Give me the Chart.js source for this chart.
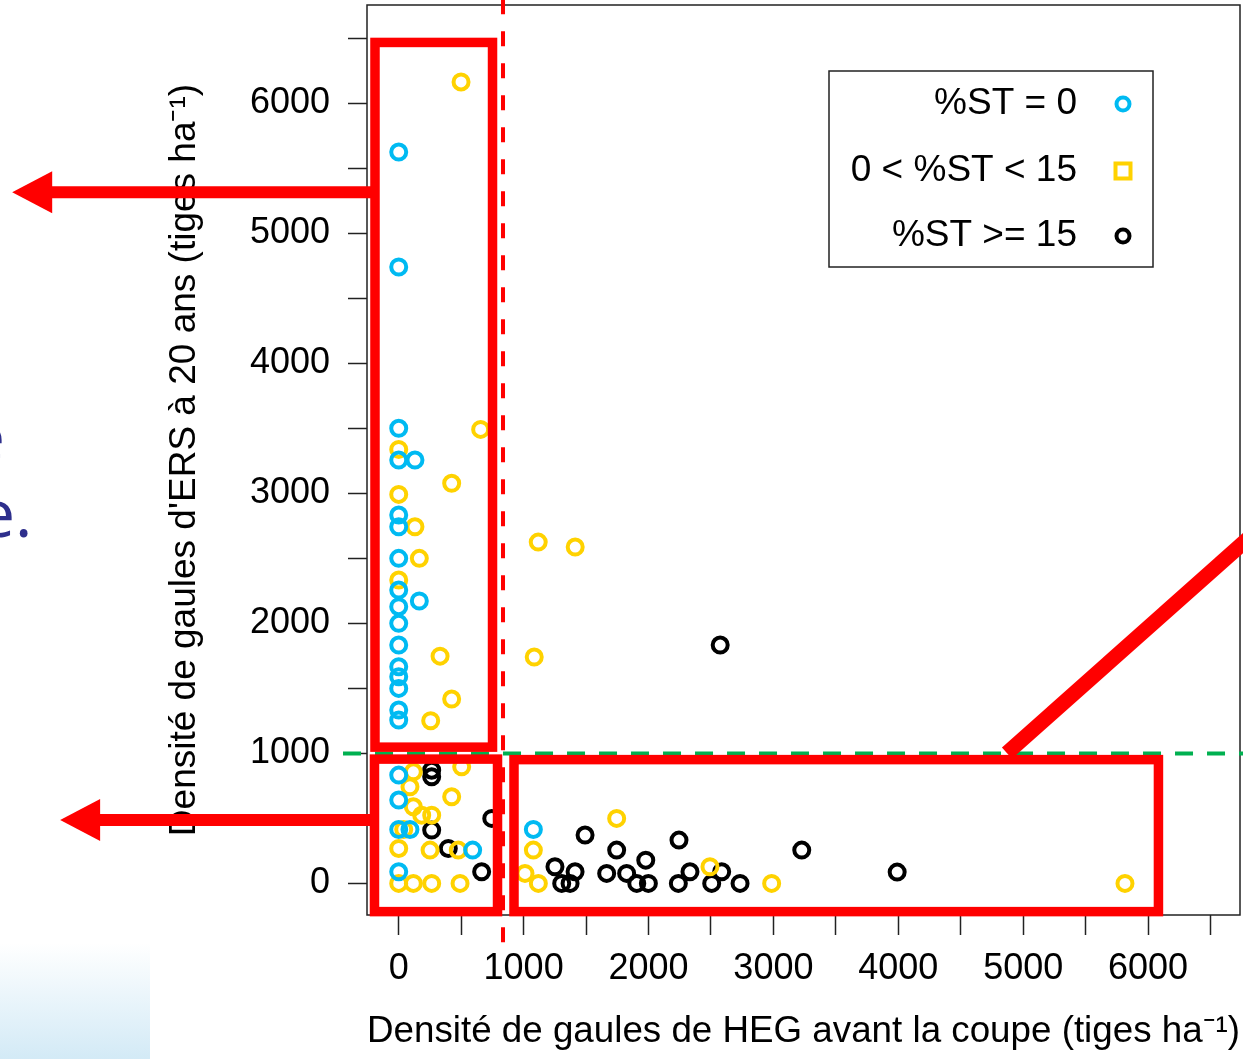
<!DOCTYPE html>
<html><head><meta charset="utf-8">
<script src="https://cdn.jsdelivr.net/npm/chart.js@4"></script>
<style>
html,body{margin:0;padding:0;background:#fff;width:1243px;height:1059px;overflow:hidden;position:relative}
#grad{position:absolute;left:0;top:943px;width:150px;height:116px;background:linear-gradient(#ffffff,#d3eaf6)}
.frag{position:absolute;font-family:'Open Sans',sans-serif;font-size:66px;line-height:66px;color:#2E2F8C;white-space:nowrap}
canvas{position:absolute;left:0;top:0}
</style></head><body>
<div id="grad"></div>
<div class="frag" style="left:-32px;top:401px">e</div>
<div class="frag" style="left:-22px;top:478px">e.</div>
<canvas id="c" width="1243" height="1059"></canvas>
<script>
// ---- data ----
const seriesLabels = ['%ST = 0', '0 < %ST < 15', '%ST >= 15'];
const blueX = [0,0,0,0,130,0,0,0,0,0,165,0,0,0,0,0,0,0,0,0,0,90,592,0,1078];
const blueY = [5625,4741,3500,3256,3256,2833,2743,2500,2256,2128,2172,2000,1833,1666,1589,1500,1333,1256,833,641,415,415,256,89,415];
const yellowX = [499,656,0,424,0,130,165,0,1117,1413,331,1085,424,256,117,504,90,424,117,184,264,40,0,251,477,0,117,264,491,1745,1078,1011,1118,2492,2986,5815];
const yellowY = [6164,3492,3338,3077,2992,2743,2500,2333,2625,2587,1748,1741,1418,1251,858,897,743,666,589,525,525,415,269,256,256,0,0,0,0,500,256,77,0,128,0,0];
const blackX = [2574,264,264,264,397,745,664,1492,1745,2244,3227,1251,1412,1305,1372,1665,1825,1978,1906,1999,2239,2332,2506,2586,2733,3991];
const blackY = [1833,871,820,410,269,500,89,372,256,333,256,128,89,0,0,77,77,179,0,0,0,89,0,89,0,87];
const xTickValues = [0,500,1000,1500,2000,2500,3000,3500,4000,4500,5000,5500,6000,6500];
const yTickValues = [0,500,1000,1500,2000,2500,3000,3500,4000,4500,5000,5500,6000,6500];
const xLimits = [-254, 6736];
const yLimits = [-243, 6756];
const xTitle = 'Densité de gaules de HEG avant la coupe (tiges ha\u207B\u00B9)';
const yTitle = "Densité de gaules d'ERS à 20 ans (tiges ha\u207B\u00B9)";
// annotation geometry in data units
const annoRects = [[-190, 6468, 751, 1048], [-194, 956, 791, -217], [923, 952, 6083, -217]];
const annoArrows = [[-190, 5316, -3095], [-190, 487, -2711]];
const annoVDash = [835, 6800, -520];
const annoHDash = [1000, -446, 6770];
const annoDiag = [4870, 1002, 6976, 2802];

const colors = ['#00BAF2', '#FFD200', '#000000'];
const FONT = "'Liberation Sans', Arial, sans-serif";

function pts(xs, ys){ return xs.map((x,i)=>({x:x, y:ys[i]})); }

const boxPlugin = {
  id:'box',
  beforeDatasetsDraw(chart){
    const {ctx, chartArea:a} = chart;
    ctx.save(); ctx.strokeStyle='#222'; ctx.lineWidth=1.5;
    ctx.strokeRect(a.left, a.top, a.right-a.left, a.bottom-a.top);
    ctx.restore();
  }
};

const legendPlugin = {
  id:'rlegend',
  afterDatasetsDraw(chart){
    const {ctx, chartArea:a} = chart;
    ctx.save();
    ctx.strokeStyle='#222'; ctx.lineWidth=1.5;
    ctx.fillStyle='#fff';
    const bx = a.right-411, by = a.top+66, bw = 324, bh = 196;
    ctx.fillRect(bx,by,bw,bh); ctx.strokeRect(bx,by,bw,bh);
    ctx.font = '37px ' + FONT; ctx.textAlign='right'; ctx.textBaseline='middle';
    const rows = [a.top+99, a.top+166, a.top+231];
    chart.data.datasets.forEach((ds,i)=>{
      ctx.fillStyle='#000';
      ctx.fillText(ds.label, a.right-163, rows[i]);
      ctx.strokeStyle = ds.borderColor; ctx.lineWidth=4;
      const mx = a.right-117, my = rows[i];
      ctx.beginPath();
      if (i===1) { ctx.rect(mx-7.5, my-7.5, 15, 15); }
      else { ctx.arc(mx, my, 6.5, 0, Math.PI*2); }
      ctx.stroke();
    });
    ctx.restore();
  }
};

const overlayPlugin = {
  id:'overlay',
  afterDraw(chart){
    const {ctx} = chart;
    const X = v => chart.scales.x.getPixelForValue(v);
    const Y = v => chart.scales.y.getPixelForValue(v);
    ctx.save();
    // green dashed horizontal
    ctx.setLineDash([18,14]); ctx.strokeStyle='#00B050'; ctx.lineWidth=4;
    ctx.beginPath(); ctx.moveTo(X(annoHDash[1]), Y(annoHDash[0])); ctx.lineTo(X(annoHDash[2]), Y(annoHDash[0])); ctx.stroke();
    // red dashed vertical
    ctx.setLineDash([15,17]); ctx.strokeStyle='#FF0000'; ctx.lineWidth=4;
    ctx.beginPath(); ctx.moveTo(X(annoVDash[0]), Y(annoVDash[1])); ctx.lineTo(X(annoVDash[0]), Y(annoVDash[2])); ctx.stroke();
    ctx.setLineDash([]);
    // rectangles
    ctx.lineWidth = 9.5; ctx.lineJoin='miter';
    annoRects.forEach(r=>{
      const x0=X(r[0]), y0=Y(r[1]), x1=X(r[2]), y1=Y(r[3]);
      ctx.strokeRect(x0,y0,x1-x0,y1-y0);
    });
    // arrows
    ctx.fillStyle='#FF0000';
    annoArrows.forEach(a=>{
      const x0=X(a[0]), y=Y(a[1]), tip=X(a[2]);
      ctx.lineWidth=12;
      ctx.beginPath(); ctx.moveTo(x0,y); ctx.lineTo(tip+36,y); ctx.stroke();
      ctx.beginPath(); ctx.moveTo(tip,y); ctx.lineTo(tip+40,y-21); ctx.lineTo(tip+40,y+21); ctx.closePath(); ctx.fill();
    });
    // diagonal
    ctx.lineWidth=15; ctx.lineCap='butt';
    ctx.beginPath(); ctx.moveTo(X(annoDiag[0]),Y(annoDiag[1])); ctx.lineTo(X(annoDiag[2]),Y(annoDiag[3])); ctx.stroke();
    ctx.restore();
  }
};

const ptStyle = c => ({borderColor:c, backgroundColor:'rgba(0,0,0,0)', pointRadius:7.5, pointBorderWidth:4, pointHoverRadius:7.5, showLine:false});

function noPad(s){ s.paddingTop=0; s.paddingBottom=0; s.paddingLeft=0; s.paddingRight=0; }

new Chart(document.getElementById('c'), {
  type:'scatter',
  data:{datasets:[
    Object.assign({label:seriesLabels[0], data:pts(blueX,blueY)}, ptStyle(colors[0])),
    Object.assign({label:seriesLabels[1], data:pts(yellowX,yellowY)}, ptStyle(colors[1])),
    Object.assign({label:seriesLabels[2], data:pts(blackX,blackY)}, ptStyle(colors[2]))
  ]},
  options:{
    responsive:false, animation:false, devicePixelRatio:1,
    events:[],
    layout:{autoPadding:false, padding:{top:5,right:3,left:0,bottom:0}},
    plugins:{legend:{display:false}, tooltip:{enabled:false}},
    scales:{
      x:{type:'linear', min:xLimits[0], max:xLimits[1],
        afterBuildTicks:s=>{s.ticks = xTickValues.map(v=>({value:v}));},
        afterFit:s=>{s.height=144; noPad(s);},
        ticks:{callback:v=> v%1000===0 ? String(v) : '', autoSkip:false, maxRotation:0, color:'#000', padding:12, font:{family:FONT, size:36}},
        grid:{drawOnChartArea:false, drawTicks:true, tickLength:20, tickColor:'#222', tickWidth:1.5},
        border:{display:false},
        title:{display:true, text:xTitle, color:'#000', font:{family:FONT, size:37}, padding:{top:0,bottom:5}}
      },
      y:{type:'linear', min:yLimits[0], max:yLimits[1],
        afterBuildTicks:s=>{s.ticks = yTickValues.map(v=>({value:v}));},
        afterFit:s=>{s.width=367; noPad(s);},
        ticks:{callback:v=> v%1000===0 ? String(v) : '', autoSkip:false, color:'#000', padding:18, font:{family:FONT, size:36}},
        grid:{drawOnChartArea:false, drawTicks:true, tickLength:19, tickColor:'#222', tickWidth:1.5},
        border:{display:false},
        title:{display:true, text:yTitle, color:'#000', font:{family:FONT, size:37}, padding:{top:163,bottom:0}}
      }
    }
  },
  plugins:[boxPlugin, legendPlugin, overlayPlugin]
});
</script>
</body></html>
